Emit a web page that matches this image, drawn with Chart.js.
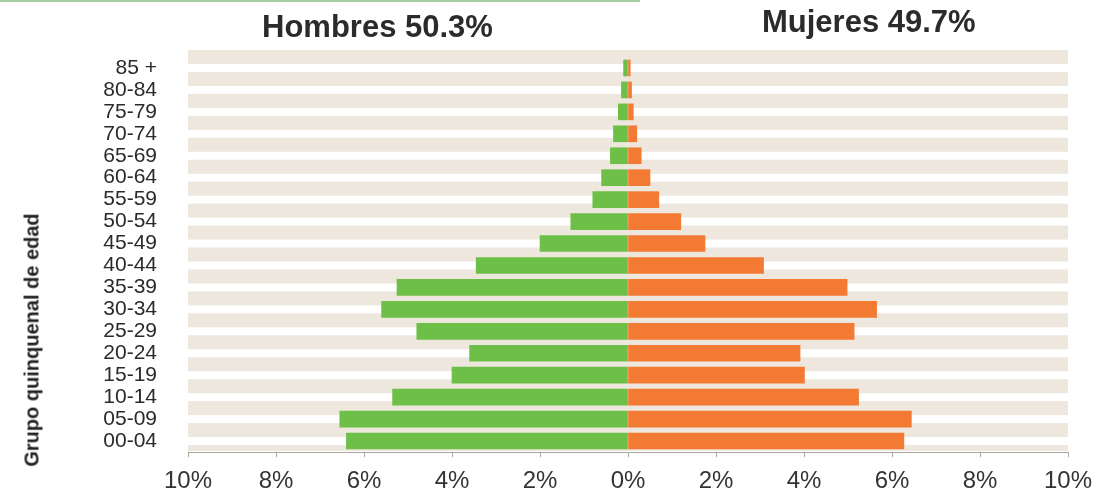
<!DOCTYPE html>
<html>
<head>
<meta charset="utf-8">
<script src="https://cdn.jsdelivr.net/npm/chart.js@4.4.1/dist/chart.umd.min.js"></script>
<style>
    body { margin: 0; background: #fff; }
    #wrap { position: relative; width: 1103px; height: 493px; overflow: hidden; }
    .head { position: absolute; font: bold 31px "Liberation Sans", Arial, sans-serif; line-height: 31px; color: #2b2b2b; white-space: nowrap; }
    #ytitle { position: absolute; left: 32px; top: 340px; transform: translate(-50%, -50%) rotate(-90deg);
              font: bold 20px "Liberation Sans", Arial, sans-serif; color: #222; white-space: nowrap; }
    #topline { position: absolute; left: 0; top: 0; width: 640px; height: 2px; background: #a6cfa2; }
</style>
</head>
<body>
<div id="wrap">
    <div id="topline"></div>
    <canvas id="pyramid" width="1103" height="493"></canvas>
    <div class="head" style="left:262px; top:11px;">Hombres 50.3%</div>
    <div class="head" style="left:762px; top:6px;">Mujeres 49.7%</div>
    <div id="ytitle">Grupo quinquenal de edad</div>
</div>
<script>
// age groups, youngest first (axis is reversed so 85 + ends on top)
const ageGroups = ['00-04', '05-09', '10-14', '15-19', '20-24', '25-29', '30-34', '35-39', '40-44',
                   '45-49', '50-54', '55-59', '60-64', '65-69', '70-74', '75-79', '80-84', '85 +'];
// percent of total population
const menPct   = [6.4, 6.55, 5.35, 4.0, 3.6, 4.8, 5.6, 5.25, 3.45, 2.0, 1.3, 0.8, 0.6, 0.4, 0.33, 0.22, 0.15, 0.1];
const womenPct = [6.27, 6.44, 5.24, 4.01, 3.91, 5.14, 5.65, 4.98, 3.08, 1.75, 1.2, 0.7, 0.5, 0.3, 0.2, 0.12, 0.08, 0.05];
const xTicks = [-10, -8, -6, -4, -2, 0, 2, 4, 6, 8, 10];

const FONT = '"Liberation Sans", Arial, sans-serif';

// beige bands behind the rows, sitting between the category centres
const stripes = {
    id: 'stripes',
    beforeDatasetsDraw(chart) {
        const { ctx, chartArea, scales } = chart;
        const y = scales.y, x = scales.x;
        const n = ageGroups.length;
        const pitch = Math.abs(y.getPixelForValue(1) - y.getPixelForValue(0));
        const left = x.getPixelForValue(xTicks[0]);
        const right = x.getPixelForValue(xTicks[xTicks.length - 1]);
        const band = 14;
        ctx.save();
        ctx.fillStyle = '#eee7dd';
        for (let i = -1; i < n; i++) {
            const mid = y.getPixelForValue(i < 0 ? 0 : i) + (i < 0 ? pitch / 2 : -pitch / 2);
            let top = mid - band / 2;
            let bottom = Math.min(mid + band / 2, chartArea.bottom - 1);
            if (bottom > top) ctx.fillRect(left, top, right - left, bottom - top);
        }
        ctx.restore();
    }
};

new Chart(document.getElementById('pyramid'), {
    type: 'bar',
    data: {
        labels: ageGroups,
        datasets: [{
            label: 'Hombres',
            data: menPct.map(v => -v),
            backgroundColor: '#6dbf47',
            barThickness: 16
        }, {
            label: 'Mujeres',
            data: womenPct,
            backgroundColor: '#f27a32',
            barThickness: 16
        }]
    },
    options: {
        indexAxis: 'y',
        responsive: false,
        animation: false,
        layout: { padding: { top: 57, right: 35, left: 0, bottom: 0 } },
        plugins: {
            legend: { display: false },
            tooltip: { enabled: false }
        },
        scales: {
            x: {
                stacked: true,
                min: -10,
                max: 10,
                afterBuildTicks: scale => { scale.ticks = xTicks.map(v => ({ value: v })); },
                afterFit: scale => { scale.height = 41; },
                ticks: {
                    callback: v => Math.abs(v) + '%',
                    color: '#333',
                    padding: 10,
                    font: { family: FONT, size: 24 }
                },
                grid: { drawOnChartArea: false, drawTicks: true, tickLength: 5, color: '#aaa59c' },
                border: { color: '#aaa59c' }
            },
            y: {
                stacked: true,
                reverse: true,
                afterFit: scale => { scale.width = 188; },
                ticks: {
                    color: '#2a2a2a',
                    padding: 23,
                    autoSkip: false,
                    font: { family: FONT, size: 21 }
                },
                grid: { display: false },
                border: { display: false }
            }
        }
    },
    plugins: [stripes]
});
</script>
</body>
</html>
